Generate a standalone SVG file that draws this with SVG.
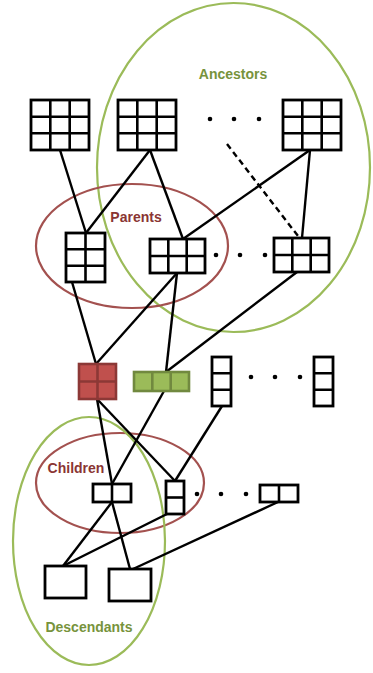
<svg xmlns="http://www.w3.org/2000/svg" width="373" height="673" viewBox="0 0 373 673">
<style>
.bx{fill:#fff;stroke:#000;stroke-width:2.8}
.gl{stroke:#000;stroke-width:2.6}
.cn{stroke:#000;stroke-width:2.4;fill:none}
.ge{fill:none;stroke:#9bbb59;stroke-width:2.2}
.re{fill:none;stroke:#a3514f;stroke-width:2.2}
.gt{font-family:"Liberation Sans",Arial,sans-serif;font-weight:bold;font-size:14px;fill:#77933c;text-anchor:middle}
.rt{font-family:"Liberation Sans",Arial,sans-serif;font-weight:bold;font-size:14px;fill:#8a3533;text-anchor:middle}
.dot{fill:#000}
</style>
<rect width="373" height="673" fill="#fff"/>
<g id="ellipses">
<ellipse id="ancestors-region" class="ge" cx="233.5" cy="167.5" rx="136.5" ry="164.5"/>
<ellipse id="parents-region" class="re" cx="132" cy="246" rx="96" ry="62"/>
<ellipse id="children-region" class="re" cx="120" cy="483" rx="84" ry="50"/>
<ellipse id="descendants-region" class="ge" cx="89" cy="541" rx="76" ry="124"/>
</g>
<g id="connectors">
<line class="cn" x1="60" y1="150" x2="86" y2="233"/>
<line class="cn" x1="150" y1="150" x2="86" y2="233"/>
<line class="cn" x1="150" y1="150" x2="183" y2="239"/>
<line class="cn" x1="310" y1="150" x2="183" y2="239"/>
<line class="cn" x1="310" y1="150" x2="302" y2="238"/>
<line class="cn" x1="227" y1="144" x2="298" y2="236" stroke-dasharray="6,4"/>
<line class="cn" x1="72" y1="282" x2="96" y2="364"/>
<line class="cn" x1="177" y1="273" x2="96" y2="364"/>
<line class="cn" x1="177" y1="273" x2="166" y2="372"/>
<line class="cn" x1="297" y1="272" x2="166" y2="372"/>
<line class="cn" x1="97" y1="399" x2="112" y2="484"/>
<line class="cn" x1="97" y1="399" x2="175" y2="481"/>
<line class="cn" x1="164" y1="391" x2="112" y2="484"/>
<line class="cn" x1="222" y1="406" x2="175" y2="481"/>
<line class="cn" x1="112" y1="502" x2="63" y2="566"/>
<line class="cn" x1="112" y1="502" x2="130" y2="569"/>
<line class="cn" x1="169" y1="513" x2="63" y2="566"/>
<line class="cn" x1="278" y1="502" x2="133" y2="569"/>
</g>
<g id="node-a1"><rect class="bx" x="31" y="100" width="58" height="50"/><path class="gl" d="M50.3 100V150M69.7 100V150M31 116.7H89M31 133.3H89"/></g>
<g id="node-a2"><rect class="bx" x="118" y="100" width="58" height="50"/><path class="gl" d="M137.3 100V150M156.7 100V150M118 116.7H176M118 133.3H176"/></g>
<g id="node-a3"><rect class="bx" x="283" y="100" width="58" height="50"/><path class="gl" d="M302.3 100V150M321.7 100V150M283 116.7H341M283 133.3H341"/></g>
<g id="dots-top"><circle class="dot" cx="210" cy="119" r="2.3"/><circle class="dot" cx="234" cy="119" r="2.3"/><circle class="dot" cx="259" cy="119" r="2.3"/></g>
<g id="node-p1"><rect class="bx" x="66" y="233" width="39" height="49"/><path class="gl" d="M85.5 233V282M66 249.3H105M66 265.7H105"/></g>
<g id="node-p2"><rect class="bx" x="150" y="239" width="55" height="34"/><path class="gl" d="M168.3 239V273M186.7 239V273M150 256H205"/></g>
<g id="dots-parents"><circle class="dot" cx="216" cy="255" r="2.3"/><circle class="dot" cx="240" cy="255" r="2.3"/><circle class="dot" cx="265" cy="255" r="2.3"/></g>
<g id="node-p3"><rect class="bx" x="274" y="238" width="55" height="34"/><path class="gl" d="M292.3 238V272M310.7 238V272M274 255H329"/></g>
<g id="node-red"><rect x="79" y="364" width="37" height="35" fill="#c0504d" stroke="#8c3836" stroke-width="2.6"/><path d="M97.5 364V399M79 381.5H116" stroke="#8c3836" stroke-width="2.6"/></g>
<g id="node-green"><rect x="134" y="372" width="55" height="19" fill="#9bbb59" stroke="#71893f" stroke-width="2.6"/><path d="M152.3 372V391M170.7 372V391" stroke="#71893f" stroke-width="2.6"/></g>
<g id="node-v1"><rect class="bx" x="212" y="357" width="19" height="49"/><path class="gl" d="M212 373.3H231M212 389.7H231"/></g>
<g id="dots-mid"><circle class="dot" cx="251" cy="377" r="2.3"/><circle class="dot" cx="275" cy="377" r="2.3"/><circle class="dot" cx="300" cy="377" r="2.3"/></g>
<g id="node-v2"><rect class="bx" x="314" y="357" width="19" height="49"/><path class="gl" d="M314 373.3H333M314 389.7H333"/></g>
<g id="node-c1"><rect class="bx" x="93" y="484" width="38" height="18"/><path class="gl" d="M112 484V502"/></g>
<g id="node-c2"><rect class="bx" x="166" y="481" width="18" height="33"/><path class="gl" d="M166 497.5H184"/></g>
<g id="dots-children"><circle class="dot" cx="197" cy="494" r="2.3"/><circle class="dot" cx="221" cy="494" r="2.3"/><circle class="dot" cx="246" cy="494" r="2.3"/></g>
<g id="node-c3"><rect class="bx" x="260" y="485" width="38" height="17"/><path class="gl" d="M279 485V502"/></g>
<g id="node-d1"><rect class="bx" x="45" y="566" width="41" height="32"/></g>
<g id="node-d2"><rect class="bx" x="109" y="569" width="42" height="32"/></g>
<g id="labels">
<text class="gt" x="233" y="79">Ancestors</text>
<text class="rt" x="136" y="222">Parents</text>
<text class="rt" x="76" y="473">Children</text>
<text class="gt" x="89" y="632">Descendants</text>
</g>
</svg>
